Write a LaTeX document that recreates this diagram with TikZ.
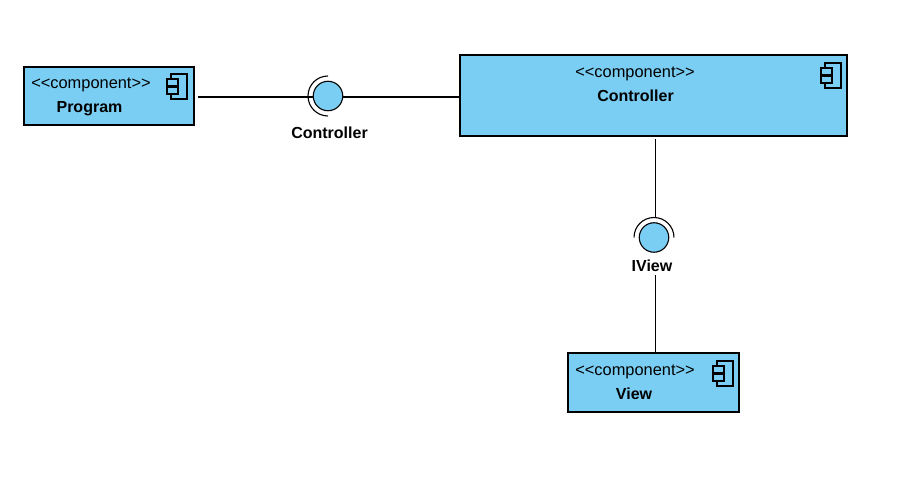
\documentclass[tikz,border=0pt]{standalone}
\usepackage{fontspec}
\setmainfont{Liberation Sans}
\definecolor{compblue}{HTML}{7ACEF4}
\newcommand{\stereotext}{{<}{<}component{>}{>}}
\tikzset{
  compbox/.style={draw, fill=compblue, line width=1.1pt, outer sep=0pt},
  ball/.style={draw, fill=compblue, circle, line width=1.1pt, minimum size=29.5pt, inner sep=0pt, outer sep=0pt},
  link/.style={line width=1.1pt},
  stereo/.style={font=\fontsize{16.4}{18}\selectfont, inner sep=0pt},
  compname/.style={font=\fontsize{16}{18}\selectfont\bfseries, inner sep=0pt},
  compicon/.pic={
    \draw[line width=1.1pt] (-16pt,0pt) rectangle (0pt,-25pt);
    \draw[line width=1.1pt, fill=compblue] (-20pt,-5pt) rectangle (-9pt,-12pt);
    \draw[line width=1.1pt, fill=compblue] (-20pt,-13pt) rectangle (-9pt,-20pt);
  }
}
\begin{document}
\begin{tikzpicture}[x=1pt, y=-1pt]
  \useasboundingbox (0,0) rectangle (898,486);
  % boxes
  \node (program) [compbox, minimum width=170pt, minimum height=58pt] at (109,96) {};
  \node (controller) [compbox, minimum width=387pt, minimum height=81pt] at (653.5,95.5) {};
  \node (view) [compbox, minimum width=171pt, minimum height=59pt] at (653.5,382.5) {};
  \path (program.north east) pic[xshift=-7pt, yshift=-7pt] {compicon};
  \path (controller.north east) pic[xshift=-6pt, yshift=-8pt] {compicon};
  \path (view.north east) pic[xshift=-6pt, yshift=-8pt] {compicon};
  \node (programStereo) [stereo] at (91,85) {\stereotext};
  \node (programName) [compname] at (89.5,108.5) {Program};
  \node (controllerStereo) [stereo] at (635,74) {\stereotext};
  \node (controllerName) [compname] at (635.5,95.5) {Controller};
  \node (viewStereo) [stereo] at (635,372) {\stereotext};
  \node (viewName) [compname] at (634,393.5) {View};
  % interfaces
  \node (controllerBall) [ball] at (328,96) {};
  \node (iviewBall) [ball] at (654,237.5) {};
  \draw[link] ([yshift=20pt]controllerBall.center) arc [start angle=90, end angle=270, radius=20pt];
  \draw[link] ([xshift=-20pt]iviewBall.center) arc [start angle=180, end angle=0, radius=20pt];
  \node (controllerLabel) [compname] at (329.5,133) {Controller};
  \node (iviewLabel) [compname] at (652,265.5) {IView};
  % links
  \coordinate (iviewTop) at (655.9,217);
  \coordinate (iviewLow) at (655.9,275);
  \coordinate (viewTop) at (655.9,353);
  \draw[link, shorten <=4pt] ([yshift=-1pt]program.east) -- ([yshift=-1pt]controllerBall.west);
  \draw[link] ([yshift=-1pt]controllerBall.east) -- ([yshift=-1.5pt]controller.west);
  \draw[link, shorten <=3pt] (controller.south -| iviewTop) -- (iviewTop);
  \draw[link] (iviewLow) -- (viewTop);
\end{tikzpicture}
\end{document}
